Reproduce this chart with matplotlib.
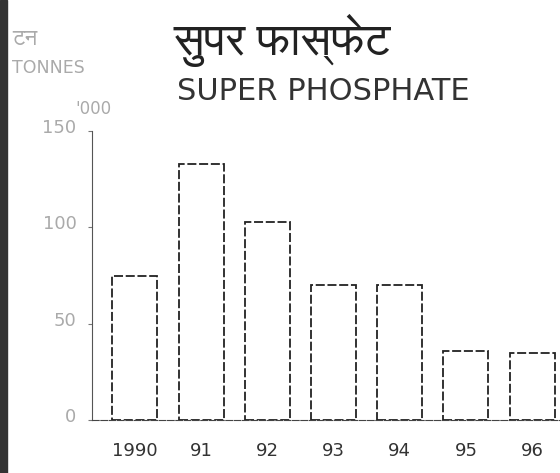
import numpy as np
import matplotlib
matplotlib.use("Agg")
import matplotlib.pyplot as plt
import matplotlib.transforms as mtransforms
from matplotlib import font_manager

years = ["1990", "91", "92", "93", "94", "95", "96"]
values = [75, 133, 103, 70, 70, 36, 35]
yticks = [0, 50, 100, 150]

# look for a font that can draw Devanagari
deva = None
for f in font_manager.fontManager.ttflist:
    n = f.name.lower()
    if "devanagari" in n or "lohit" in n or "freesans" in n or "mangal" in n:
        deva = f.name
        break
hfam = [deva, "DejaVu Sans"] if deva else ["DejaVu Sans"]

fig = plt.figure(figsize=(5.6, 4.73), dpi=100)
ax = fig.add_axes([0.164, 0.112, 0.836, 0.611])

x = np.arange(len(years))
ax.bar(x, values, width=0.68, facecolor="white", edgecolor="#222222",
       linewidth=1.3, linestyle=(0, (5, 1.5)))

ax.set_xlim(-0.65, 6.42)
ax.set_ylim(0, 150)
ax.set_xticks(x)
ax.set_xticklabels(years, fontsize=13, color="#333333")
ax.tick_params(axis="x", length=0, pad=16)
ax.set_yticks(yticks)
ax.set_yticklabels([str(v) for v in yticks], fontsize=13, color="#aaaaaa")
ax.tick_params(axis="y", length=3, width=0.8, color="#777777", pad=8)
# labels sit a little above their ticks
shift = mtransforms.ScaledTranslation(0, 5 / 100, fig.dpi_scale_trans)
for lab in ax.get_yticklabels():
    lab.set_transform(lab.get_transform() + shift)

for s in ["top", "right"]:
    ax.spines[s].set_visible(False)
ax.spines["left"].set_color("#555555")
ax.spines["left"].set_linestyle((0, (4, 1)))
ax.spines["bottom"].set_color("#444444")
ax.spines["bottom"].set_linestyle((0, (6, 1.5)))

fig.text(0.31, 0.884, "सुपर फास्फेट", fontsize=33, color="#222222",
         family=hfam, va="baseline")
fig.text(0.316, 0.789, "SUPER PHOSPHATE", fontsize=22, color="#333333",
         va="baseline")
fig.text(0.021, 0.905, "टन", fontsize=16, color="#aaaaaa", family=hfam,
         va="baseline")
fig.text(0.021, 0.846, "TONNES", fontsize=12.5, color="#aaaaaa",
         va="baseline")
fig.text(0.135, 0.758, "'000", fontsize=12, color="#aaaaaa", va="baseline")

# dark scan edge on the left
fig.patches.append(plt.Rectangle((0, 0), 0.012, 1, transform=fig.transFigure,
                                 color="#333333", figure=fig))

fig.savefig("out.png", dpi=100)
